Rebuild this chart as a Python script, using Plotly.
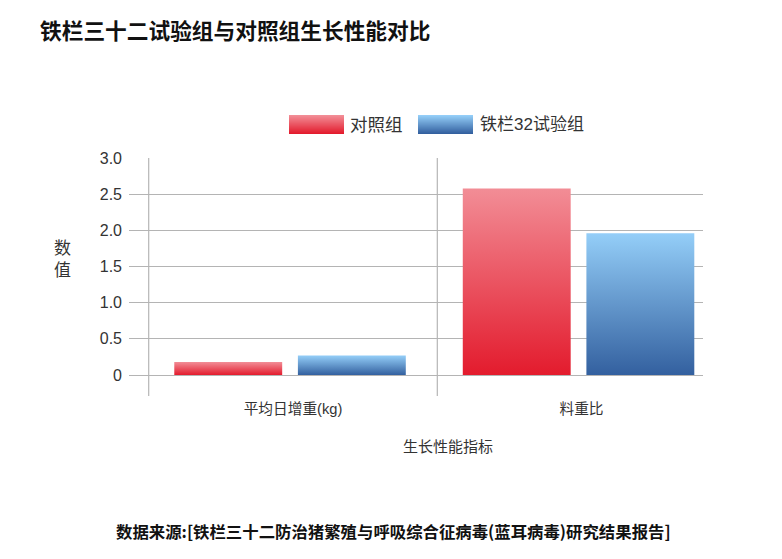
import plotly.graph_objects as go

# data
categories = ["平均日增重(kg)", "料重比"]
series_names = ["对照组", "铁栏32试验组"]
control_values = [0.18, 2.58]
trial_values = [0.27, 1.96]
y_tick_values = [0, 0.5, 1.0, 1.5, 2.0, 2.5, 3.0]
y_tick_labels = ["0", "0.5", "1.0", "1.5", "2.0", "2.5", "3.0"]

TITLE = "铁栏三十二试验组与对照组生长性能对比"
X_TITLE = "生长性能指标"
Y_TITLE = "数<br>值"
SOURCE = "数据来源:[铁栏三十二防治猪繁殖与呼吸综合征病毒(蓝耳病毒)研究结果报告]"

# gradients: (top, bottom)
RED = ("#F28D96", "#E31B2D")
BLUE = ("#94CEF8", "#33609F")
GRID = "#B4B4B4"
DIVIDER = "#A6A6A6"
TEXT = "#333333"
SANS = "Liberation Sans, Noto Sans CJK SC, sans-serif"
CJK_BOLD = "Noto Sans CJK SC, sans-serif"

# the page body has an 8px margin, so screen pixels are shifted by OFF
OFF = 8
W, H = 782 - 2 * OFF, 559 - 2 * OFF
PLOT_L, PLOT_R, PLOT_T, PLOT_B = 129, 703, 158, 396
ZERO_PX, TOP_PX = 375, 158
CAT0_PX, CAT_STEP = 293, 288.5
RED_OFFSET, BLUE_OFFSET, BAR_HALF = -0.2245, 0.204, 0.187


def px_x(px):
    return (px - PLOT_L) / (PLOT_R - PLOT_L)


def px_y(py):
    return (PLOT_B - py) / (PLOT_B - PLOT_T)


def hex_to_rgb(c):
    c = c.lstrip("#")
    return tuple(int(c[i:i + 2], 16) for i in (0, 2, 4))


def swatch(x0, x1, y0, y1, top, bottom, n=19):
    """Legend swatch as thin strips so it fades top to bottom."""
    t, b = hex_to_rgb(top), hex_to_rgb(bottom)
    shapes = []
    for k in range(n):
        f = k / (n - 1)
        col = "rgb(%d,%d,%d)" % tuple(round(t[j] + (b[j] - t[j]) * f) for j in range(3))
        ya = y0 + (y1 - y0) * k / n
        yb = y0 + (y1 - y0) * (k + 1) / n
        shapes.append(dict(type="rect", xref="paper", yref="paper",
                           x0=px_x(x0), x1=px_x(x1), y0=px_y(ya), y1=px_y(yb),
                           fillcolor=col, line=dict(width=0), layer="above"))
    return shapes


fig = go.Figure()

for values, name, (top, bottom), off in [
    (control_values, series_names[0], RED, RED_OFFSET),
    (trial_values, series_names[1], BLUE, BLUE_OFFSET),
]:
    for i, v in enumerate(values):
        c = i + off
        fig.add_trace(go.Scatter(
            x=[c - BAR_HALF, c + BAR_HALF, c + BAR_HALF, c - BAR_HALF, c - BAR_HALF],
            y=[0, 0, v, v, 0],
            mode="lines",
            fill="toself",
            fillgradient=dict(type="vertical", colorscale=[[0, bottom], [1, top]]),
            line=dict(width=0),
            hoveron="fills",
            hoverinfo="text",
            text=f"{name}<br>{categories[i]}: {v}",
            showlegend=False,
        ))

# vertical separators between categories
shapes = []
for xv in (-0.5, 0.5):
    shapes.append(dict(type="line", xref="x", yref="paper", x0=xv, x1=xv, y0=0, y1=1,
                       line=dict(color=DIVIDER, width=1), layer="below"))

# legend drawn by hand (wide gradient swatches)
shapes += swatch(289, 344, 115, 134, *RED)
shapes += swatch(418, 473, 115, 134, *BLUE)

annotations = [
    dict(text=series_names[0], x=px_x(348), y=px_y(124.5), xref="paper", yref="paper",
         xanchor="left", yanchor="middle", showarrow=False,
         font=dict(family=SANS, size=17.5, color=TEXT)),
    dict(text=series_names[1], x=px_x(478), y=px_y(124.5), xref="paper", yref="paper",
         xanchor="left", yanchor="middle", showarrow=False,
         font=dict(family=SANS, size=17, color=TEXT)),
    dict(text=Y_TITLE, x=px_x(62), y=px_y(259), xref="paper", yref="paper",
         xanchor="center", yanchor="middle", showarrow=False,
         font=dict(family=SANS, size=17, color=TEXT)),
    dict(text=X_TITLE, x=px_x(448), y=px_y(446), xref="paper", yref="paper",
         xanchor="center", yanchor="middle", showarrow=False,
         font=dict(family=SANS, size=15, color=TEXT)),
    dict(text="<b>" + SOURCE + "</b>", x=px_x(393), y=px_y(531), xref="paper", yref="paper",
         xanchor="center", yanchor="middle", showarrow=False,
         font=dict(family=CJK_BOLD, size=16.4, color="#111111")),
]

x_lo = (PLOT_L - CAT0_PX) / CAT_STEP
x_hi = (PLOT_R - CAT0_PX) / CAT_STEP
unit = (ZERO_PX - TOP_PX) / 3.0
y_lo = -(PLOT_B - ZERO_PX) / unit

fig.update_layout(
    width=W,
    height=H,
    margin=dict(l=PLOT_L - OFF, r=W - (PLOT_R - OFF), t=PLOT_T - OFF,
                b=H - (PLOT_B - OFF), pad=0),
    paper_bgcolor="white",
    plot_bgcolor="white",
    showlegend=False,
    title=dict(text="<b>" + TITLE + "</b>", x=(40 - OFF) / W, xref="container",
               xanchor="left", y=1 - (31 - OFF) / H, yref="container", yanchor="middle",
               font=dict(family=CJK_BOLD, size=21.7, color="#111111")),
    shapes=shapes,
    annotations=annotations,
    xaxis=dict(
        range=[x_lo, x_hi],
        tickvals=[0, 1],
        ticktext=categories,
        showgrid=False,
        zeroline=False,
        showline=False,
        ticks="",
        ticklabelstandoff=2,
        tickfont=dict(family=SANS, size=14.7, color=TEXT),
        fixedrange=True,
    ),
    yaxis=dict(
        range=[y_lo, 3.002],
        tickvals=y_tick_values,
        ticktext=y_tick_labels,
        showgrid=True,
        gridcolor=GRID,
        gridwidth=1,
        zeroline=False,
        showline=False,
        ticks="",
        ticklabelstandoff=6,
        tickfont=dict(family=SANS, size=16, color=TEXT),
        fixedrange=True,
    ),
)

fig.write_html("out.html")
